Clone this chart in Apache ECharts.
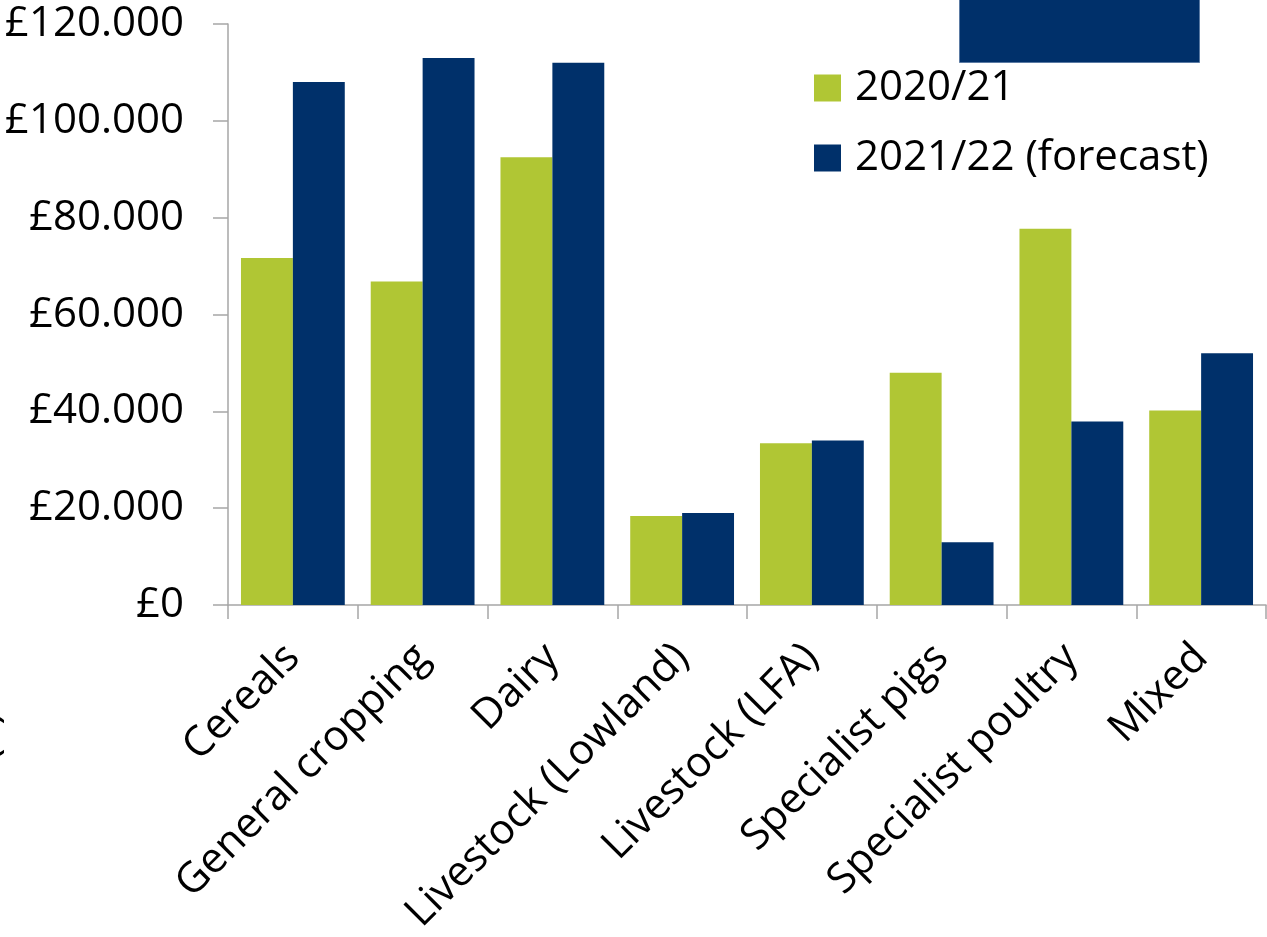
<!DOCTYPE html>
<html>
<head>
<meta charset="utf-8">
<script src="https://cdn.jsdelivr.net/npm/echarts@6/dist/echarts.min.js"></script>
<style>
  html, body { margin: 0; padding: 0; background: #ffffff; }
  #chart { width: 1267px; height: 937px; }
</style>
</head>
<body>
<div id="chart"></div>
<script>
// Farm types on the category axis
const categories = [
  'Cereals', 'General cropping', 'Dairy', 'Livestock (Lowland)',
  'Livestock (LFA)', 'Specialist pigs', 'Specialist poultry', 'Mixed'
];
const seriesNames = ['2020/21', '2021/22 (forecast)'];
// Average income per farm, £
const income2020 = [71700, 66800, 92500, 18400, 33400, 48000, 77700, 40200];
const income2021 = [108000, 113000, 112000, 19000, 34000, 13000, 37900, 52000];
// Value axis ticks
const yMin = 0, yMax = 120000, yStep = 20000;

const FONT = '"Open Sans", "Noto Sans", sans-serif';
const FS = 42;
const GREEN = '#b0c634';
const NAVY = '#00306a';
const AXIS = '#a6a6a6';

function pounds(v) {
  if (v === 0) return '£0';
  return '£' + String(v).replace(/\B(?=(\d{3})+(?!\d))/g, '.');
}

const chart = echarts.init(document.getElementById('chart'), null, { renderer: 'canvas' });
chart.setOption({
  animation: false,
  backgroundColor: '#ffffff',
  textStyle: { fontFamily: FONT },
  grid: { left: 228, right: 1, top: 24, bottom: 331, containLabel: false },
  legend: {
    orient: 'vertical',
    left: 814,
    top: 67,
    padding: 0,
    itemWidth: 27,
    itemHeight: 27,
    itemGap: 28,
    icon: 'rect',
    textStyle: { fontFamily: FONT, fontSize: FS, lineHeight: 27, color: '#000', padding: [0, 0, 0, 9] },
    data: seriesNames
  },
  xAxis: {
    type: 'category',
    data: categories,
    axisLine: { lineStyle: { color: AXIS, width: 1.5 } },
    axisTick: { show: true, length: 14, lineStyle: { color: AXIS, width: 1.5 } },
    axisLabel: {
      rotate: 45,
      interval: 0,
      margin: 46,
      fontFamily: FONT,
      fontSize: FS,
      color: '#000'
    }
  },
  yAxis: {
    type: 'value',
    min: yMin,
    max: yMax,
    interval: yStep,
    splitLine: { show: false },
    axisLine: { show: true, lineStyle: { color: AXIS, width: 1.5 } },
    axisTick: { show: true, length: 15, lineStyle: { color: AXIS, width: 1.5 } },
    axisLabel: {
      margin: 44,
      fontFamily: FONT,
      fontSize: FS,
      color: '#000',
      formatter: pounds
    }
  },
  series: [
    {
      name: seriesNames[0],
      type: 'bar',
      data: income2020,
      itemStyle: { color: GREEN },
      barGap: '0%',
      barCategoryGap: '20%'
    },
    {
      name: seriesNames[1],
      type: 'bar',
      data: income2021,
      itemStyle: { color: NAVY },
      barGap: '0%',
      barCategoryGap: '20%'
    }
  ],
  graphic: [
    {
      type: 'rect',
      left: 959,
      top: -2,
      shape: { width: 240, height: 64 },
      style: { fill: NAVY, stroke: '#5a7aa3', lineWidth: 1 },
      z: 10
    },
    {
      type: 'text',
      x: 6,
      y: 712,
      rotation: Math.PI / 2,
      style: {
        text: 'Farm Business Income (£)',
        fontFamily: FONT,
        fontSize: FS,
        fill: '#000',
        align: 'right',
        verticalAlign: 'bottom'
      }
    }
  ]
});
</script>
</body>
</html>
